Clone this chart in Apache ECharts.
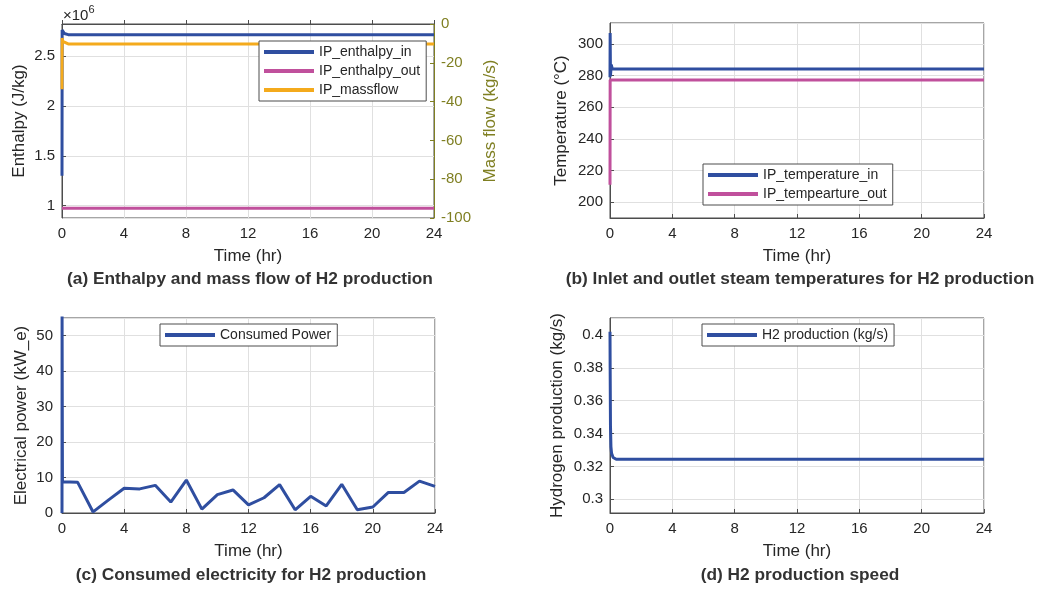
<!DOCTYPE html>
<html>
<head>
<meta charset="utf-8">
<script src="https://cdn.jsdelivr.net/npm/echarts@6/dist/echarts.min.js"></script>
<style>
html,body{margin:0;padding:0;background:#fff;}
#chart{width:1038px;height:590px;}
</style>
</head>
<body>
<div id="chart"></div>
<script>
// ---------- data ----------
const xTicks = [0, 4, 8, 12, 16, 20, 24];

// (a) enthalpy & mass flow
const timeEnthIn = [0, 0.01, 0.04, 0.15, 0.4, 24];
const enthalpyIn = [1.30e6, 2.76e6, 2.745e6, 2.725e6, 2.713e6, 2.713e6];
const timeEnthOut = [0, 24];
const enthalpyOut = [0.975e6, 0.975e6];
const timeMass = [0, 0.01, 0.05, 0.15, 0.4, 24];
const massFlow = [-33.6, -7.2, -9.0, -10.0, -10.3, -10.3];

// (b) temperatures
const timeTempIn = [0, 0.01, 0.03, 0.08, 0.15, 24];
const tempIn = [279, 307, 280, 287, 284.2, 284.2];
const timeTempOut = [0, 0.01, 24];
const tempOut = [211, 277.3, 277.3];

// (c) consumed power
const timePower = [0, 0.005, 0.03, 1, 2, 3, 4, 5, 6, 7, 8, 9, 10, 11, 12, 13, 14, 15, 16, 17, 18, 19, 20, 21, 22, 23, 24];
const power = [0, 56, 8.8, 8.7, 0.3, 3.7, 7.0, 6.8, 7.8, 3.1, 9.3, 1.1, 5.2, 6.5, 2.3, 4.3, 8.0, 0.9, 4.7, 2.0, 8.1, 0.9, 1.7, 5.8, 5.8, 9.0, 7.5];

// (d) hydrogen production
const timeH2 = [0, 0.01, 0.03, 0.06, 0.1, 0.2, 0.4, 24];
const h2 = [0.402, 0.38, 0.345, 0.332, 0.328, 0.3255, 0.3244, 0.3244];

const seriesNames = ['IP_enthalpy_in', 'IP_enthalpy_out', 'IP_massflow', 'IP_temperature_in', 'IP_tempearture_out', 'Consumed Power', 'H2 production (kg/s)'];
const captions = [
  '(a) Enthalpy and mass flow of H2 production',
  '(b) Inlet and outlet steam temperatures for H2 production',
  '(c) Consumed electricity for H2 production',
  '(d) H2 production speed'
];
const xName = 'Time (hr)';
const yNames = ['Enthalpy (J/kg)', 'Mass flow (kg/s)', 'Temperature (\u00B0C)', 'Electrical power (kW_e)', 'Hydrogen production (kg/s)'];

// ---------- styling ----------
const FONT = '"Liberation Sans", Arial, sans-serif';
const TXT = '#262626';
const OLIVE = '#7f7f22';
const BLUE = '#2f4ea0';
const MAG = '#c0509c';
const ORANGE = '#f4aa1c';
const FRAME = '#4d4d4d';
const GRIDC = '#e0e0e0';

function pairs(t, v) { return t.map((x, i) => [x, v[i]]); }

const grids = [
  {left: 62, top: 24, width: 372, height: 194},
  {left: 610, top: 23, width: 374, height: 195},
  {left: 62, top: 318, width: 373, height: 195},
  {left: 610, top: 318, width: 374, height: 195}
].map(g => Object.assign({show: true, borderColor: FRAME, borderWidth: 1, backgroundColor: '#fff', containLabel: false}, g));

function xAxis(gi) {
  return {
    type: 'value', gridIndex: gi, min: 0, max: 24, interval: 4,
    name: xName, nameLocation: 'middle', nameGap: 30,
    nameTextStyle: {fontFamily: FONT, fontSize: 17, color: TXT},
    axisLine: {show: true, lineStyle: {color: FRAME}},
    axisTick: {show: true, inside: true, length: 4, lineStyle: {color: FRAME}},
    axisLabel: {fontFamily: FONT, fontSize: 15, color: TXT, margin: 8},
    splitLine: {show: true, lineStyle: {color: GRIDC, width: 1}}
  };
}
function yAxis(gi, o, lab) {
  return Object.assign({
    type: 'value', gridIndex: gi, position: 'left',
    nameLocation: 'middle', nameRotate: 90,
    nameTextStyle: {fontFamily: FONT, fontSize: 17, color: TXT},
    axisLine: {show: true, lineStyle: {color: FRAME}},
    axisTick: {show: true, inside: true, length: 4, lineStyle: {color: FRAME}},
    axisLabel: Object.assign({fontFamily: FONT, fontSize: 15, color: TXT, margin: 7, showMinLabel: false, showMaxLabel: false}, lab || {}),
    splitLine: {show: true, lineStyle: {color: GRIDC, width: 1}}
  }, o);
}

const yAxes = [
  yAxis(0, {min: 0.877e6, max: 2.82e6, splitNumber: 4, name: yNames[0], nameGap: 34},
    {formatter: v => String(+(v / 1e6).toFixed(2))}),
  {
    type: 'value', gridIndex: 0, position: 'right', min: -100, max: 0, interval: 20,
    name: yNames[1], nameLocation: 'middle', nameRotate: 90, nameGap: 48,
    nameTextStyle: {fontFamily: FONT, fontSize: 17, color: OLIVE},
    axisLine: {show: true, lineStyle: {color: OLIVE}},
    axisTick: {show: true, inside: true, length: 4, lineStyle: {color: OLIVE}},
    axisLabel: {fontFamily: FONT, fontSize: 15, color: OLIVE, margin: 7},
    splitLine: {show: false}
  },
  yAxis(1, {min: 190, max: 313.3, splitNumber: 6, name: yNames[2], nameGap: 40}),
  yAxis(2, {min: 0, max: 55, interval: 10, name: yNames[3], nameGap: 32}, {showMinLabel: true, margin: 9}),
  yAxis(3, {min: 0.2917, max: 0.4103, splitNumber: 6, name: yNames[4], nameGap: 44})
];

function line(name, data, xi, yi, color) {
  return {
    name: name, type: 'line', xAxisIndex: xi, yAxisIndex: yi, data: data,
    showSymbol: false, symbol: 'none', lineStyle: {width: 3, color: color}, itemStyle: {color: color},
    clip: true, animation: false
  };
}

const series = [
  line(seriesNames[0], pairs(timeEnthIn, enthalpyIn), 0, 0, BLUE),
  line(seriesNames[1], pairs(timeEnthOut, enthalpyOut), 0, 0, MAG),
  line(seriesNames[2], pairs(timeMass, massFlow), 0, 1, ORANGE),
  line(seriesNames[3], pairs(timeTempIn, tempIn), 1, 2, BLUE),
  line(seriesNames[4], pairs(timeTempOut, tempOut), 1, 2, MAG),
  line(seriesNames[5], pairs(timePower, power), 2, 3, BLUE),
  line(seriesNames[6], pairs(timeH2, h2), 3, 4, BLUE)
];

function legend(names, left, top) {
  return {
    data: names.map(n => ({name: n, icon: 'rect'})),
    orient: 'vertical', left: left, top: top,
    itemWidth: 50, itemHeight: 4, itemGap: 5,
    padding: [4, 6, 4, 5],
    backgroundColor: '#fff', borderColor: FRAME, borderWidth: 1, borderRadius: 0,
    selectedMode: false,
    textStyle: {fontFamily: FONT, fontSize: 14, color: TXT}
  };
}

const legends = [
  legend(seriesNames.slice(0, 3), 259, 41),
  legend(seriesNames.slice(3, 5), 703, 164),
  legend(seriesNames.slice(5, 6), 160, 324),
  legend(seriesNames.slice(6, 7), 702, 324)
];

function caption(text, cx, top) {
  return {text: text, left: cx, top: top, textAlign: 'center', padding: 0,
    textStyle: {fontFamily: FONT, fontSize: 17.3, fontWeight: 'bold', color: '#333'}};
}
const titles = [
  caption(captions[0], 250, 271),
  caption(captions[1], 800, 271),
  caption(captions[2], 251, 567),
  caption(captions[3], 800, 567),
  {text: '{a|\u00D710}{s|6}', left: 63, top: 4, padding: 0,
    textStyle: {fontWeight: 'normal', rich: {a: {fontFamily: FONT, fontSize: 15, fontWeight: 'normal', color: TXT, verticalAlign: 'bottom'},
      s: {fontFamily: FONT, fontSize: 11, fontWeight: 'normal', color: TXT, verticalAlign: 'top', padding: [0, 0, 8, 0]}}}}
];

const chart = echarts.init(document.getElementById('chart'), null, {renderer: 'canvas'});
chart.setOption({
  animation: false,
  backgroundColor: '#fff',
  title: titles,
  legend: legends,
  grid: grids,
  xAxis: [xAxis(0), xAxis(1), xAxis(2), xAxis(3)],
  yAxis: yAxes,
  series: series
});
</script>
</body>
</html>
